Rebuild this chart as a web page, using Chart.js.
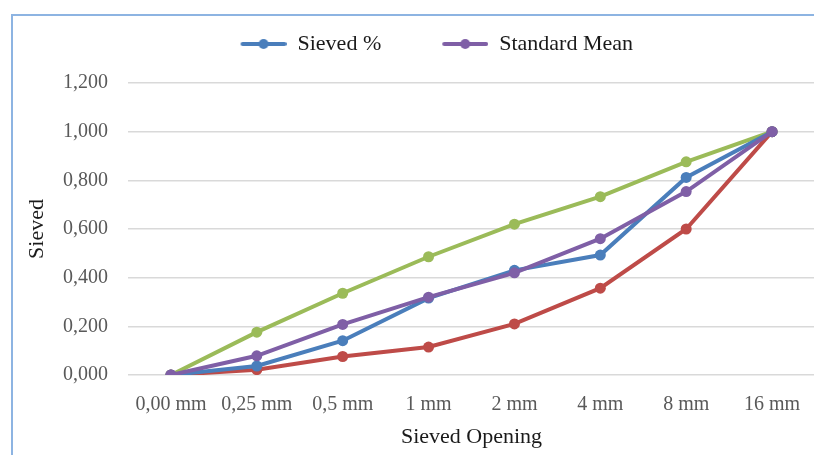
<!DOCTYPE html>
<html>
<head>
<meta charset="utf-8">
<script src="https://cdn.jsdelivr.net/npm/chart.js@4/dist/chart.umd.min.js"></script>
<style>
  html, body { margin: 0; padding: 0; background: #fff; overflow: hidden; width: 814px; height: 455px; }
  #wrap { position: absolute; left: 0; top: 0; width: 830px; height: 455px; }
  #frame { position: absolute; left: 11px; top: 14px; width: 900px; height: 500px;
           border-left: 2px solid #8db4e2; border-top: 2px solid #8db4e2; pointer-events: none; }
</style>
</head>
<body>
<div id="wrap"><canvas id="chart" width="830" height="455"></canvas></div>
<div id="frame"></div>
<script>
// data
const categories = ['0,00 mm', '0,25 mm', '0,5 mm', '1 mm', '2 mm', '4 mm', '8 mm', '16 mm'];
const sievedPct = [0, 0.037, 0.141, 0.316, 0.43, 0.493, 0.812, 1.0];
const standardMean = [0, 0.079, 0.208, 0.32, 0.42, 0.56, 0.754, 1.0];
const upperLimit = [0, 0.176, 0.336, 0.486, 0.62, 0.733, 0.876, 1.0];
const lowerLimit = [0, 0.022, 0.076, 0.115, 0.21, 0.357, 0.6, 1.0];
const yTicks = [0, 0.2, 0.4, 0.6, 0.8, 1.0, 1.2];

const BLUE = '#4a7ebb', PURPLE = '#7f5fa6', GREEN = '#9bbb59', RED = '#be4b48';
const serif = '"Liberation Serif", "Times New Roman", serif';

// legend marker: line with a dot, drawn on a small canvas
const MARGIN = 51, LINE_W = 46;
const legendMark = (color) => {
  const c = document.createElement('canvas');
  c.width = MARGIN + LINE_W;
  c.height = 12;
  const g = c.getContext('2d');
  g.strokeStyle = color;
  g.lineWidth = 4;
  g.lineCap = 'round';
  g.beginPath();
  g.moveTo(MARGIN + 2, 6);
  g.lineTo(MARGIN + LINE_W - 2, 6);
  g.stroke();
  g.fillStyle = color;
  g.beginPath();
  g.arc(MARGIN + LINE_W / 2, 6, 5, 0, Math.PI * 2);
  g.fill();
  return c;
};

const createDataset = (label, data, color, order) => ({
  label,
  data,
  borderColor: color,
  backgroundColor: color,
  pointBackgroundColor: color,
  pointBorderWidth: 0,
  pointRadius: 5.5,
  borderWidth: 4,
  tension: 0,
  fill: false,
  order,
});

const legendGap = {
  id: 'legendGap',
  beforeInit(chart) {
    const fit = chart.legend.fit;
    chart.legend.fit = function () {
      fit.call(this);
      this.height += 18;
    };
  },
};

new Chart(document.getElementById('chart').getContext('2d'), {
  type: 'line',
  data: {
    labels: categories,
    datasets: [
      createDataset('Sieved %', sievedPct, BLUE, 1),
      createDataset('Standard Mean', standardMean, PURPLE, 0),
      createDataset('Upper', upperLimit, GREEN, 3),
      createDataset('Lower', lowerLimit, RED, 2),
    ],
  },
  plugins: [legendGap],
  options: {
    responsive: false,
    animation: false,
    layout: { padding: { left: 7.5, right: 15, top: 23, bottom: 4.6 } },
    plugins: {
      tooltip: { enabled: false },
      legend: {
        position: 'top',
        labels: {
          usePointStyle: true,
          pointStyleWidth: MARGIN + LINE_W,
          padding: 10,
          color: '#1a1a1a',
          font: { family: serif, size: 22 },
          generateLabels: () => [
            { text: 'Sieved %', pointStyle: legendMark(BLUE), fontColor: '#1a1a1a', datasetIndex: 0, lineWidth: 0 },
            { text: 'Standard Mean', pointStyle: legendMark(PURPLE), fontColor: '#1a1a1a', datasetIndex: 1, lineWidth: 0 },
          ],
        },
      },
    },
    scales: {
      x: {
        offset: true,
        afterFit: (scale) => { scale.height = 75.4; },
        grid: { display: false },
        border: { display: false },
        ticks: { color: '#595959', padding: 10, font: { family: serif, size: 20 }, maxRotation: 0 },
        title: {
          display: true,
          text: 'Sieved Opening',
          color: '#1a1a1a',
          font: { family: serif, size: 22 },
          padding: { top: 8, bottom: 0 },
        },
      },
      y: {
        min: 0,
        max: 1.2,
        afterFit: (scale) => { scale.width = 120.5; },
        afterBuildTicks: (scale) => { scale.ticks = yTicks.map((v) => ({ value: v })); },
        grid: { color: '#d9d9d9', lineWidth: 1.5, drawTicks: false },
        border: { display: false },
        ticks: {
          color: '#595959',
          padding: 20,
          font: { family: serif, size: 20 },
          callback: (v) => Number(v).toFixed(3).replace('.', ','),
        },
        title: {
          display: true,
          text: 'Sieved',
          color: '#1a1a1a',
          font: { family: serif, size: 22 },
          padding: { top: 16.3, bottom: 0 },
        },
      },
    },
  },
});
</script>
</body>
</html>
